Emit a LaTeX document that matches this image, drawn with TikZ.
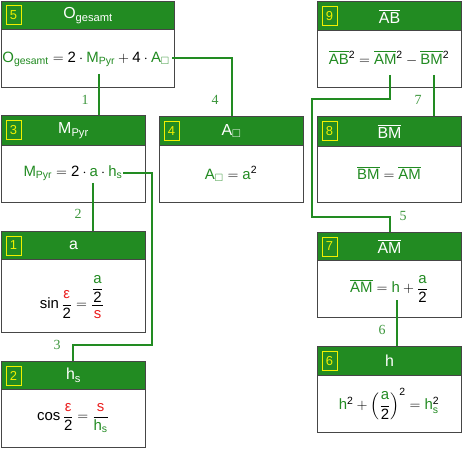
\documentclass[tikz,border=0pt]{standalone}
\usepackage{amsmath,amssymb}
\usepackage{fontspec}
\setmainfont{Liberation Sans}
\newfontfamily\labfont{Liberation Serif}
\definecolor{fgreen}{RGB}{34,139,34}
\definecolor{lgreen}{RGB}{60,150,60}
\definecolor{fred}{RGB}{235,30,30}
\definecolor{bordergray}{RGB}{70,70,70}
\definecolor{numyellow}{RGB}{240,240,0}
\newcommand\T[1]{\text{#1}}
\newcommand\G[1]{\textcolor{fgreen}{#1}}
\newcommand\R[1]{\textcolor{fred}{#1}}
\newcommand\sq{\square}
\tikzset{
  bodybox/.style={draw=bordergray, line width=1bp, fill=white, inner sep=0pt},
  headbox/.style={draw=bordergray, line width=1bp, fill=fgreen, inner sep=0pt},
  headtext/.style={text=white, font=\fontsize{16}{18}\selectfont, inner sep=0pt},
  numbox/.style={draw=numyellow, line width=1bp, text=numyellow, minimum width=15bp, minimum height=19bp, inner sep=0pt, font=\fontsize{13}{15}\selectfont},
  formula/.style={font=\fontsize{15}{18}\selectfont, inner sep=0pt},
  conn/.style={draw=fgreen, line width=2bp},
  lab/.style={text=lgreen, font=\labfont\fontsize{14}{16}\selectfont, inner sep=0pt}
}
\newcommand\dbox[8]{%
  \node[bodybox, minimum width={(#5-#3)*1bp}, minimum height={(#6-#4)*1bp}, anchor=north west] (#1) at (#3,#4) {};
  \node[headbox, minimum width={(#5-#3)*1bp}, minimum height={#7*1bp}, anchor=north west] (#1h) at (#3,#4) {};
  \node[headtext] (#1t) at (#1h.center) {#8};
  \node[numbox] (#1n) at ([xshift=12.5bp]#1h.west) {#2};
}
\begin{document}
\begin{tikzpicture}[x=1bp,y=-1bp]
\useasboundingbox (0,0) rectangle (463,449);
% boxes
\dbox{b5}{5}{1}{1}{174}{87}{28}{$\T{O}_{\T{gesamt}}$}
\dbox{b3}{3}{1}{115}{145}{202}{30}{$\T{M}_{\T{Pyr}}$}
\dbox{b4}{4}{159}{116}{303}{202}{29}{$\T{A}_{\sq}$}
\dbox{b9}{9}{317}{1}{461}{87}{29}{$\overline{\T{AB}}$}
\dbox{b8}{8}{317}{116}{461}{202}{30}{$\overline{\T{BM}}$}
\dbox{b1}{1}{1}{231}{145}{332}{28}{$\T{a}$}
\dbox{b7}{7}{317}{232}{461}{317}{28}{$\overline{\T{AM}}$}
\dbox{b6}{6}{317}{346}{461}{432}{29}{$\T{h}$}
\dbox{b2}{2}{1}{361}{145}{447}{28}{$\T{h}_{\T{s}}$}
% formulas
\node[formula] (f5) at (86,59) {$\G{\T{O}_{\T{gesamt}}} = \T{2}\cdot\G{\T{M}_{\T{Pyr}}} + \T{4}\cdot\G{\T{A}_{\sq}}$};
\node[formula] (f3) at (73,173) {$\G{\T{M}_{\T{Pyr}}} = \T{2}\cdot\G{\T{a}}\cdot\G{\T{h}_{\T{s}}}$};
\node[formula] (f4) at (231,174) {$\G{\T{A}_{\sq}} = \G{\T{a}}^{\T{2}}$};
\node[formula] (f9) at (389,58) {$\G{\overline{\T{AB}}}^{\T{2}} = \G{\overline{\T{AM}}}^{\T{2}} - \G{\overline{\T{BM}}}^{\T{2}}$};
\node[formula] (f8) at (389,173) {$\G{\overline{\T{BM}}} = \G{\overline{\T{AM}}}$};
\node[formula] (f1) at (72,297) {$\T{sin}\,\dfrac{\R{\T{ε}}}{\T{2}} = \dfrac{\dfrac{\G{\T{a}}}{\T{2}}}{\R{\T{s}}}$};
\node[formula] (f2) at (73,418) {$\T{cos}\,\dfrac{\R{\T{ε}}}{\T{2}} = \dfrac{\R{\T{s}}}{\G{\T{h}_{\T{s}}}}$};
\node[formula] (f7) at (389,289) {$\G{\overline{\T{AM}}} = \G{\T{h}} + \dfrac{\G{\T{a}}}{\T{2}}$};
\node[formula] (f6) at (389,404) {$\G{\T{h}}^{\T{2}} + \left(\dfrac{\G{\T{a}}}{\T{2}}\right)^{\T{2}} = \G{\T{h}}_{\G{\T{s}}}^{\T{2}}$};
% connector start coordinates
\coordinate (s1) at (99,74);
\coordinate (s4) at (172,58);
\coordinate (s2) at (93,183);
\coordinate (s3) at (123,173);
\coordinate (s5) at (390,75);
\coordinate (s7) at (434,75);
\coordinate (s6) at (397,300);
% connectors
\draw[conn] (s1) -- (s1 |- b3.north);
\draw[conn] (s4) -- (232,58) -- (232,0 |- b4.north);
\draw[conn] (s2) -- (s2 |- b1.north);
\draw[conn] (s3) -- (152,173) -- (152,345) -- (73,345) -- (73,0 |- b2.north);
\draw[conn] (s5) -- (390,99) -- (312,99) -- (312,217) -- (390,217) -- (390,0 |- b7.north);
\draw[conn] (s7) -- (s7 |- b8.north);
\draw[conn] (s6) -- (s6 |- b6.north);
% labels
\node[lab] (l1) at (85,100) {1};
\node[lab] (l4) at (215,100) {4};
\node[lab] (l2) at (78,214) {2};
\node[lab] (l3) at (57,345) {3};
\node[lab] (l5) at (403,216) {5};
\node[lab] (l7) at (418,100) {7};
\node[lab] (l6) at (382,330) {6};
\end{tikzpicture}
\end{document}
